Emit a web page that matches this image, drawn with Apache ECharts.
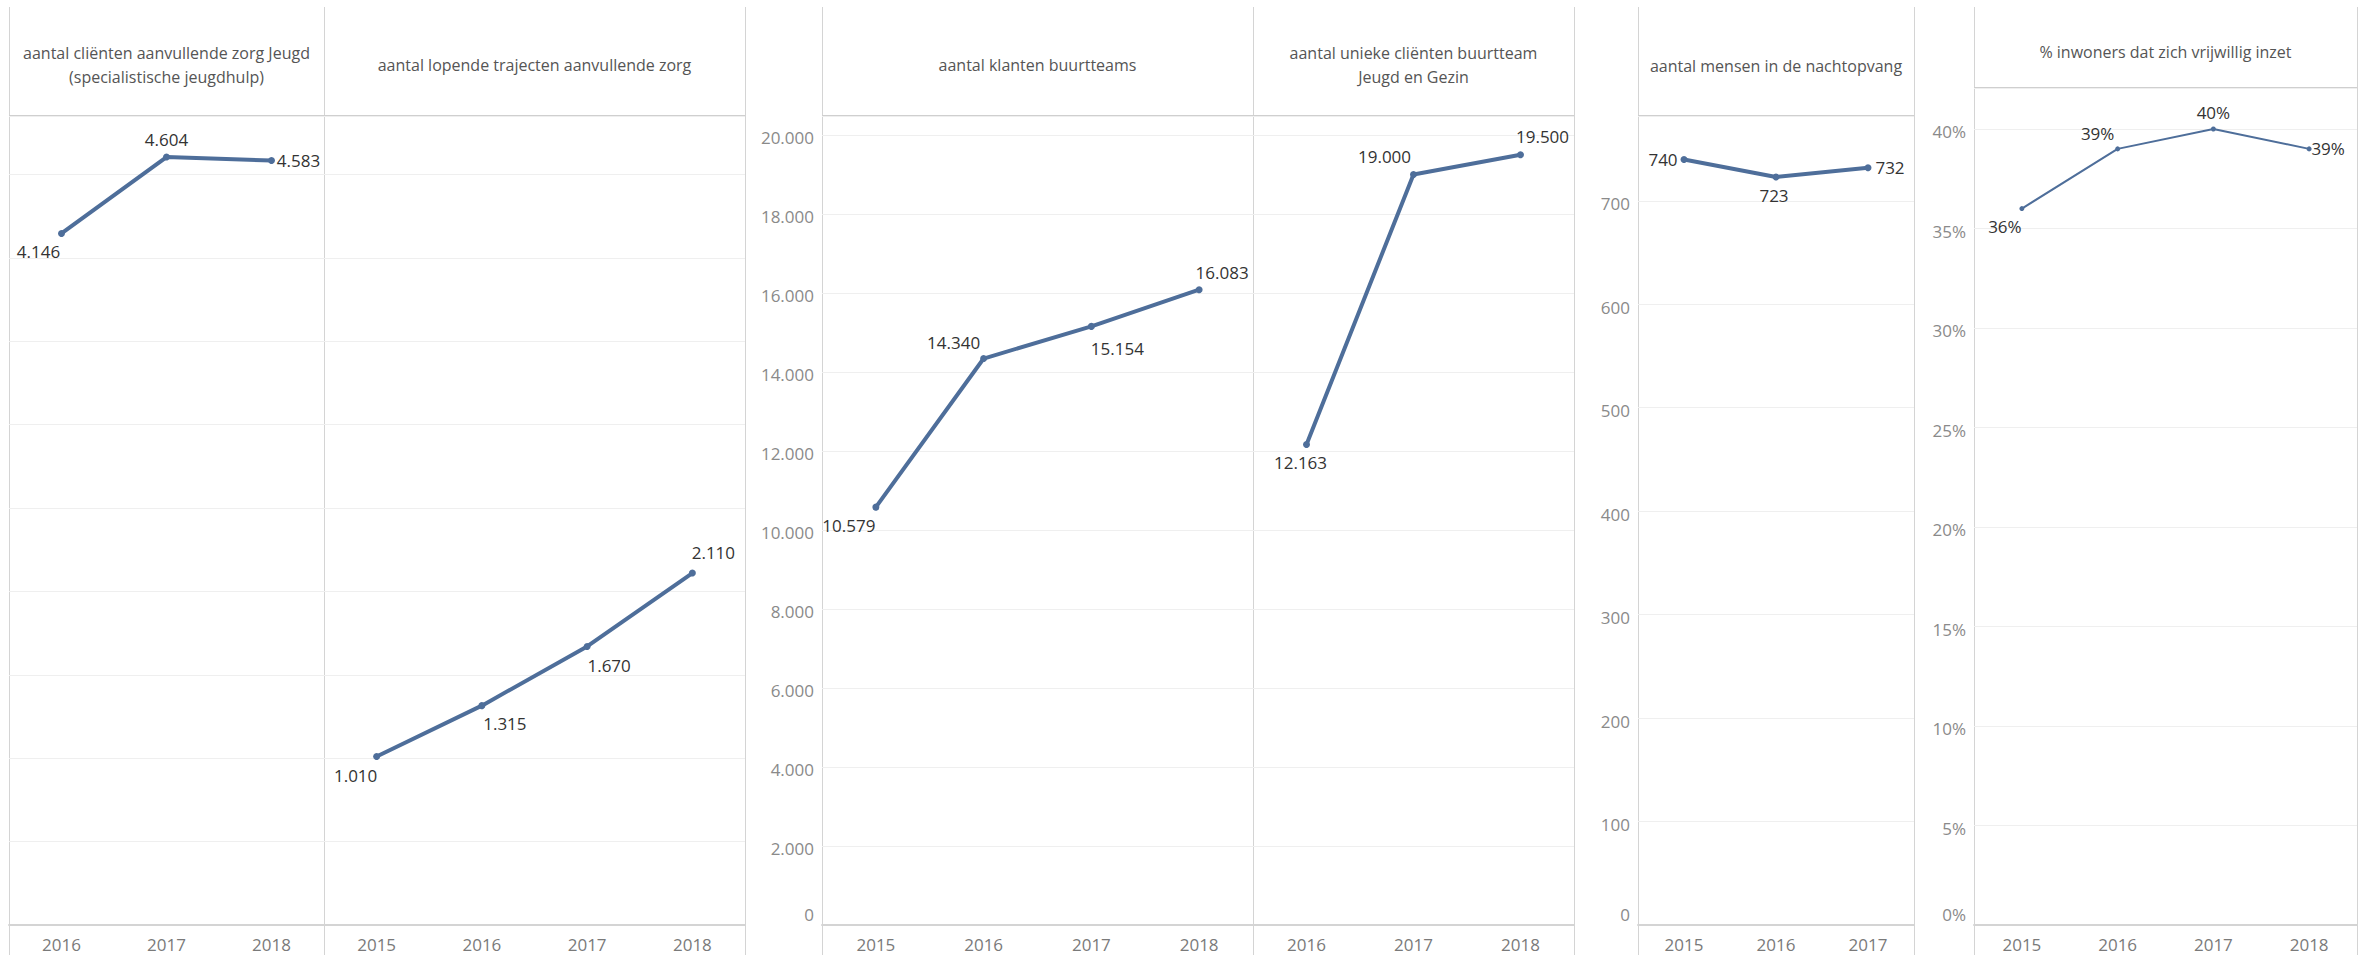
<!DOCTYPE html>
<html>
<head>
<meta charset="utf-8">
<script src="https://cdn.jsdelivr.net/npm/echarts@6/dist/echarts.min.js"></script>
<style>
html,body{margin:0;padding:0;background:#fff;}
#c{width:2366px;height:955px;}
</style>
</head>
<body>
<div id="c"></div>
<script>
// ---- data ----
const cat1 = ['2016', '2017', '2018'];
const val1 = [4146, 4604, 4583];
const cat2 = ['2015', '2016', '2017', '2018'];
const val2 = [1010, 1315, 1670, 2110];
const cat3 = ['2015', '2016', '2017', '2018'];
const val3 = [10579, 14340, 15154, 16083];
const cat4 = ['2016', '2017', '2018'];
const val4 = [12163, 19000, 19500];
const cat5 = ['2015', '2016', '2017'];
const val5 = [740, 723, 732];
const cat6 = ['2015', '2016', '2017', '2018'];
const val6 = [36, 39, 40, 39];

const title1 = ['aantal cliënten aanvullende zorg Jeugd', '(specialistische jeugdhulp)'];
const title2 = ['aantal lopende trajecten aanvullende zorg'];
const title3 = ['aantal klanten buurtteams'];
const title4 = ['aantal unieke cliënten buurtteam', 'Jeugd en Gezin'];
const title5 = ['aantal mensen in de nachtopvang'];
const title6 = ['% inwoners dat zich vrijwillig inzet'];

// axis settings (value ranges & tick steps)
const yMaxA = 4850, yStepA = 500;     // panels 1-2 (hidden axis)
const yMaxB = 20480, yStepB = 2000;   // panels 3-4
const yMaxC = 782, yStepC = 100;      // panel 5
const yMaxD = 42.06, yStepD = 5;      // panel 6

// ---- label placement (offsets from point, px) ----
const lab1 = [[-23, 18], [0, -18], [27, 0]];
const lab2 = [[-21, 19], [23, 18], [22, 19], [21, -21]];
const lab3 = [[-27, 18], [-30, -16], [26, 22], [23, -17]];
const lab4 = [[-6, 18], [-29, -18], [22, -18]];
const lab5 = [[-21, 0], [-2, 18], [22, 0]];
const lab6 = [[-17, 18], [-20, -15], [0, -16], [19, 0]];

// ---- layout ----
const FONT = '"Open Sans", "DejaVu Sans", sans-serif';
const LINE = '#4e6e9a';
const BORDER = '#d4d4d4';
const BOTTOM = 925;
const panels = [
  {x: 9,    w: 315, top: 116, title: title1, cat: cat1, val: val1, lab: lab1, ax: 'A', showY: false, fmt: 'n', lw: 4, tl: [53, 77]},
  {x: 324,  w: 421, top: 116, title: title2, cat: cat2, val: val2, lab: lab2, ax: 'A', showY: false, fmt: 'n', lw: 4, tl: [65]},
  {x: 822,  w: 431, top: 116, title: title3, cat: cat3, val: val3, lab: lab3, ax: 'B', showY: true,  fmt: 'n', lw: 4, tl: [65]},
  {x: 1253, w: 321, top: 116, title: title4, cat: cat4, val: val4, lab: lab4, ax: 'B', showY: false, fmt: 'n', lw: 4, tl: [53, 77]},
  {x: 1638, w: 276, top: 116, title: title5, cat: cat5, val: val5, lab: lab5, ax: 'C', showY: true,  fmt: 'n', lw: 4, tl: [66]},
  {x: 1974, w: 383, top: 88,  title: title6, cat: cat6, val: val6, lab: lab6, ax: 'D', showY: true,  fmt: 'p', lw: 2, tl: [52]}
];
const axes = {
  A: {max: yMaxA, step: yStepA},
  B: {max: yMaxB, step: yStepB},
  C: {max: yMaxC, step: yStepC},
  D: {max: yMaxD, step: yStepD}
};

function nl(v) {
  return String(Math.round(v)).replace(/\B(?=(\d{3})+(?!\d))/g, '.');
}
function fmtVal(v, f) {
  return f === 'p' ? Math.round(v) + '%' : nl(v);
}

const grid = [], xAxis = [], yAxis = [], series = [], graphic = [];

panels.forEach((p, i) => {
  grid.push({left: p.x, top: p.top, width: p.w, height: BOTTOM - p.top});
  xAxis.push({
    type: 'category', gridIndex: i, data: p.cat, boundaryGap: true,
    axisTick: {show: false},
    axisLine: {show: true, lineStyle: {color: BORDER, width: 2}},
    axisLabel: {color: '#7a7a7a', fontSize: 17, fontFamily: FONT, margin: 11}
  });
  const a = axes[p.ax];
  yAxis.push({
    type: 'value', gridIndex: i, min: 0, max: a.max, interval: a.step,
    axisLine: {show: false}, axisTick: {show: false},
    splitLine: {show: true, lineStyle: {color: '#efefef', width: 1}},
    axisLabel: {
      show: p.showY, showMaxLabel: false, margin: 8,
      color: '#8a8a8a', fontSize: 17, fontFamily: FONT,
      formatter: v => (v === 0 ? '{z|' : '{a|') + fmtVal(v, p.fmt) + '}',
      rich: {
        a: {fontSize: 17, fontFamily: FONT, color: '#8a8a8a', padding: [6, 0, 0, 0]},
        z: {fontSize: 17, fontFamily: FONT, color: '#8a8a8a', padding: [0, 0, 22, 0]}
      }
    }
  });
  series.push({
    type: 'line', xAxisIndex: i, yAxisIndex: i,
    data: p.val.map((v, k) => ({
      value: v,
      label: {offset: p.lab[k]}
    })),
    symbol: 'circle', symbolSize: p.lw === 4 ? 7 : 5,
    lineStyle: {color: LINE, width: p.lw},
    itemStyle: {color: LINE},
    label: {
      show: true, position: 'inside', color: '#333', fontSize: 17, fontFamily: FONT,
      formatter: d => fmtVal(d.value, p.fmt)
    },
    emphasis: {disabled: true},
    animation: false
  });
  // titles
  p.title.forEach((t, k) => {
    graphic.push({
      type: 'text', silent: true,
      style: {text: t, x: p.x + p.w / 2, y: p.tl[k], align: 'center', verticalAlign: 'middle',
              fontSize: 16, fontFamily: FONT, fill: '#555'}
    });
  });
});

// vertical separators
[9, 324, 745, 822, 1253, 1574, 1638, 1914, 1974, 2357].forEach(x => {
  graphic.push({type: 'line', silent: true,
    shape: {x1: x + 0.5, y1: 7, x2: x + 0.5, y2: 955},
    style: {stroke: BORDER, lineWidth: 1}});
});
// header underlines
[[9, 745, 116], [822, 1574, 116], [1638, 1914, 116], [1974, 2357, 88]].forEach(s => {
  graphic.push({type: 'line', silent: true,
    shape: {x1: s[0], y1: s[2], x2: s[1], y2: s[2]},
    style: {stroke: '#cfcfcf', lineWidth: 2}});
});

const chart = echarts.init(document.getElementById('c'), null, {renderer: 'svg'});
chart.setOption({
  backgroundColor: '#fff',
  animation: false,
  grid, xAxis, yAxis, series, graphic
});
</script>
</body>
</html>
